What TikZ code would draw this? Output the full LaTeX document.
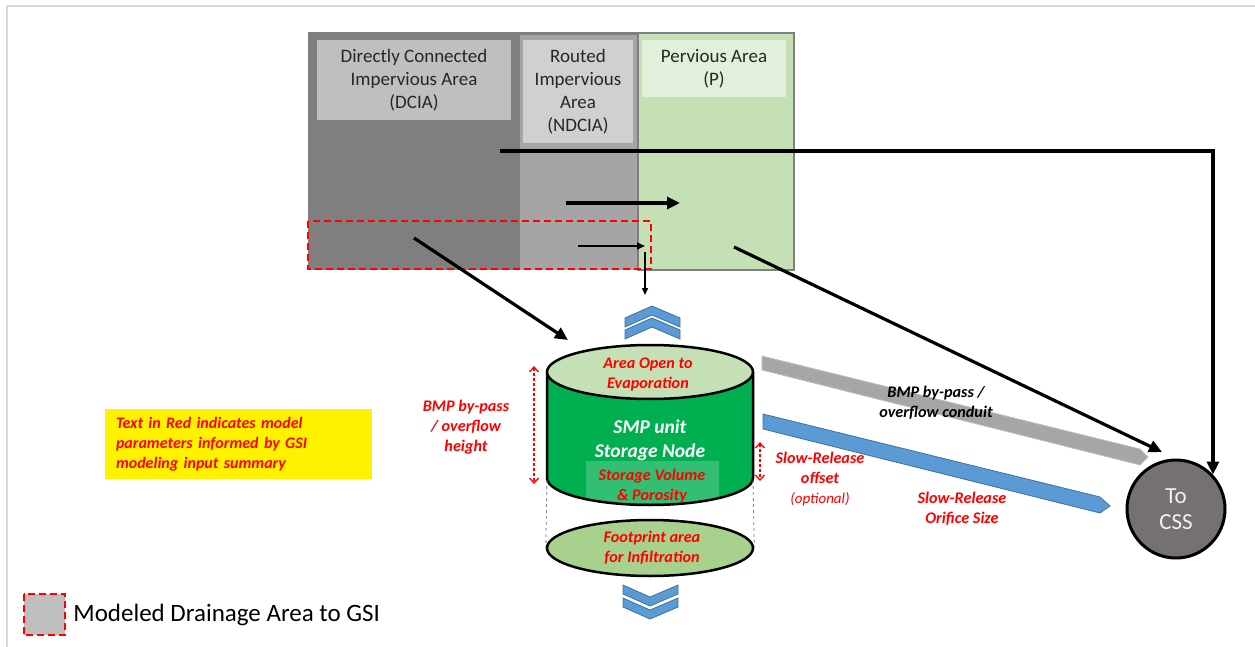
\documentclass[tikz,border=0pt]{standalone}
\usepackage{fontspec}
\setmainfont{Carlito}
\usetikzlibrary{arrows.meta,shapes.geometric,positioning}

\definecolor{FrameGrey}{HTML}{D9D9D9}
\definecolor{DciaGrey}{HTML}{7F7F7F}
\definecolor{RoutedGrey}{HTML}{A5A5A5}
\definecolor{DciaLabel}{HTML}{BFBFBF}
\definecolor{RoutedLabel}{HTML}{D0D0D0}
\definecolor{PervGreen}{HTML}{C5E0B4}
\definecolor{PervLabel}{HTML}{E2EFDA}
\definecolor{SmpGreen}{HTML}{00B050}
\definecolor{FootGreen}{HTML}{A9D18E}
\definecolor{ChevBlue}{HTML}{5B9BD5}
\definecolor{ChevEdge}{HTML}{41719C}
\definecolor{ConduitGrey}{HTML}{A6A6A6}
\definecolor{ConduitEdge}{HTML}{BFBFBF}
\definecolor{CssGrey}{HTML}{767171}
\definecolor{LabelInk}{HTML}{262626}
\definecolor{ParamRed}{HTML}{FF0000}

\tikzset{
  areabox/.style={fill=#1, text=LabelInk, align=center, inner sep=0pt,
    font=\fontsize{19}{23}\selectfont},
  paramlabel/.style={text=ParamRed, align=center, inner sep=0pt,
    font=\fontsize{16.2}{20}\selectfont\bfseries\itshape},
  flowarrow/.style={draw=black, line width=3.2pt, -{Triangle[length=13pt,width=12pt]}},
  thinarrow/.style={draw=black, line width=2pt, -{Triangle[length=8pt,width=7pt]}},
  paramdash/.style={draw=ParamRed, line width=1.3pt, dash pattern=on 3pt off 2pt,
    {Straight Barb[length=5pt,width=9pt]}-{Straight Barb[length=5pt,width=9pt]}},
  drainline/.style={draw=ParamRed, line width=2.5pt, dash pattern=on 7pt off 4pt},
  chevron/.style={fill=ChevBlue, draw=ChevEdge, line width=0.8pt},
  disc/.style={ellipse, draw=black, line width=2.5pt, inner sep=0pt,
    minimum width=206, minimum height=54}
}

\begin{document}
\begin{tikzpicture}[x=1pt,y=1pt]
  \useasboundingbox (0,0) rectangle (1255,-647);
  \draw[FrameGrey,line width=1.5pt] (7,-647) -- (7,-6) -- (1255,-6);

  % drainage areas
  \fill[DciaGrey] (308,-32) rectangle (638,-270);
  \fill[RoutedGrey] (520,-35) rectangle (638,-270);
  \filldraw[fill=PervGreen,draw=DciaGrey,line width=2pt] (638,-33) rectangle (794,-270);
  \node[areabox=DciaLabel,minimum width=194,minimum height=80] (dcia) at (414,-80)
    {Directly Connected\\Impervious Area\\(DCIA)};
  \node[areabox=RoutedLabel,minimum width=110,minimum height=103] (ndcia) at (578,-91.5)
    {Routed\\Impervious\\Area\\(NDCIA)};
  \node[areabox=PervLabel,minimum width=144,minimum height=57] (perv) at (714,-68.5)
    {Pervious Area\\(P)};
  \draw[drainline] (308,-221) rectangle (651,-269);

  % outlet
  \node[circle,fill=CssGrey,draw=black,line width=3pt,minimum size=98,inner sep=0pt,
    text=white!95!black,align=center,font=\fontsize{23}{26}\selectfont] (css) at (1176,-509) {To\\CSS};

  % flow arrows
  \coordinate (runoff) at (500,-151);
  \coordinate (rtA) at (566,-203);
  \coordinate (rtB) at (680,-203);
  \coordinate (gsiA) at (578,-246);
  \coordinate (gsiB) at (645,-246);
  \coordinate (dropA) at (645,-252);
  \coordinate (dropB) at (645,-295);
  \coordinate (dciaOut) at (414,-238);
  \coordinate (smpIn) at (568,-340);
  \coordinate (pervOut) at (734,-247);
  \coordinate (cssIn) at (1162,-452);
  \draw[flowarrow] (runoff) -| (css.43);
  \draw[flowarrow] (rtA) -- (rtB);
  \draw[thinarrow] (gsiA) -- (gsiB);
  \draw[black,line width=1.5pt,-{Triangle[length=7pt,width=6pt]}] (dropA) -- (dropB);
  \draw[flowarrow] (dciaOut) -- (smpIn);
  \draw[flowarrow] (pervOut) -- (cssIn);

  % evaporation and infiltration
  \foreach \a in {306,318}
    \draw[chevron] (625,-\a-12) -- (652,-\a) -- (680,-\a-12) -- (680,-\a-21)
      -- (652,-\a-9) -- (625,-\a-21) -- cycle;
  \foreach \b in {606,619}
    \draw[chevron] (623,-\b+21) -- (650,-\b+9) -- (678,-\b+21) -- (678,-\b+12)
      -- (650,-\b) -- (623,-\b+12) -- cycle;

  % storage node
  \fill[SmpGreen] (547,-372) -- (547,-478)
    arc[start angle=180,end angle=360,x radius=103,y radius=27] -- (753,-372) -- cycle;
  \fill[white,fill opacity=0.2] (586,-461) rectangle (719,-503);
  \draw[line width=2.5pt] (547,-372) -- (547,-478)
    arc[start angle=180,end angle=360,x radius=103,y radius=27] -- (753,-372);
  \node[disc,fill=PervGreen] (evap) at (650,-372) {};
  \node[paramlabel] at (648,-374.5) {Area Open to\\Evaporation};
  \node[text=white,align=center,font=\fontsize{19.5}{24}\selectfont\bfseries\itshape] (smp)
    at (650,-440) {SMP unit\\Storage Node};
  \node[paramlabel] (stor) at (652,-486) {Storage Volume\\\& Porosity};
  \node[disc,fill=FootGreen,minimum height=56] (foot) at (650,-548) {};
  \node[paramlabel] at (652,-548) {Footprint area\\for Infiltration};
  \draw[gray,line width=0.8pt,dashed] (547,-480) -- (foot.west);
  \draw[gray,line width=0.8pt,dashed] (753,-480) -- (foot.east);

  % heights
  \draw[paramdash] (534,-366) -- (534,-484);
  \draw[paramdash] (760,-442) -- (760,-481);
  \node[paramlabel] (bypassH) at (466,-427) {BMP by-pass\\/ overflow\\height};
  \node[paramlabel] (offset) at (820,-479)
    {Slow-Release\\offset\\{\mdseries\fontsize{15}{17}\selectfont(optional)}};

  % conduits
  \filldraw[fill=ConduitGrey,draw=ConduitEdge,line width=0.8pt] (762,-356) -- (1140,-449)
    -- (1148,-457) -- (1140,-465) -- (762,-370) -- cycle;
  \filldraw[fill=ChevBlue,draw=ChevEdge,line width=0.8pt] (763,-414) -- (1100,-497)
    -- (1110,-506) -- (1100,-513) -- (763,-429) -- cycle;
  \node[paramlabel,text=black] (bypassC) at (936,-403) {BMP by-pass /\\overflow conduit};
  \node[paramlabel] (orifice) at (962,-509) {Slow-Release\\Orifice Size};

  % notes
  \node[fill=yellow,minimum width=267,minimum height=70,text width=245,align=left,
    inner sep=0pt,text=ParamRed,font=\fontsize{16}{20}\selectfont\bfseries\itshape]
    (note) at (238.5,-444) {Text in Red indicates model\\parameters informed by GSI\\modeling input summary};
  \node[fill=DciaLabel,minimum size=41,inner sep=0pt] (legsq) at (44.5,-614.5) {};
  \draw[drainline] (legsq.north west) rectangle (legsq.south east);
  \node[right=8 of legsq,inner sep=0pt,text=black,font=\fontsize{25}{28}\selectfont] (legtxt)
    {Modeled Drainage Area to GSI};
\end{tikzpicture}
\end{document}
